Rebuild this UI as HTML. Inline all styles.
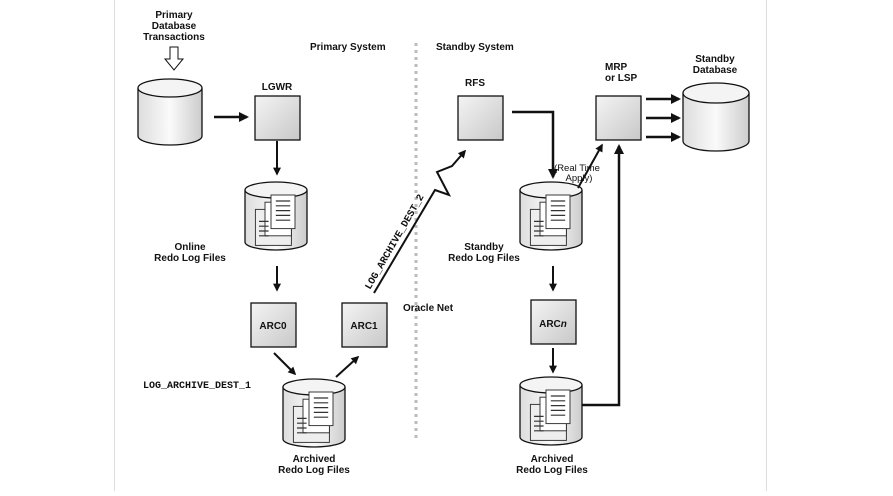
<!DOCTYPE html>
<html><head><meta charset="utf-8"><style>
body{margin:0;background:#fff}
text{font-family:"Liberation Sans",sans-serif;font-weight:bold;font-size:10px;fill:#111}
.m{font-family:"Liberation Mono",monospace;font-size:10px}
.n{font-weight:normal;font-size:9.5px}
</style></head><body>
<svg width="893" height="491" viewBox="0 0 893 491" xmlns="http://www.w3.org/2000/svg">
<defs>
<linearGradient id="g" x1="0" x2="1"><stop offset="0" stop-color="#ddd"/><stop offset="0.5" stop-color="#fafafa"/><stop offset="1" stop-color="#ccc"/></linearGradient>
<linearGradient id="b" x1="0" y1="0" x2="1" y2="1"><stop offset="0" stop-color="#f4f4f4"/><stop offset="1" stop-color="#c8c8c8"/></linearGradient>
<marker id="a" viewBox="0 0 10 10" refX="8" refY="5" markerWidth="4" markerHeight="4" orient="auto"><path d="M0,0L10,5L0,10z" fill="#111"/></marker>
<g id="doc" transform="scale(1.2)"><rect x="-18" y="-8" width="30" height="30" fill="#eee" stroke="#333" stroke-width="0.8"/><rect x="-10" y="-14" width="22" height="28" fill="#fff" stroke="#333" stroke-width="0.8"/><rect x="-5" y="-20" width="20" height="28" fill="#fff" stroke="#333" stroke-width="0.8"/><path d="M-1,-15h12M-1,-11h12M-1,-7h12M-1,-3h12M-1,1h12M-15,2h8M-15,6h8M-15,10h8M-15,14h8" stroke="#333"/></g>
</defs>
<line x1="114.5" y1="0" x2="114.5" y2="491" stroke="#ddd"/>
<line x1="766.5" y1="0" x2="766.5" y2="491" stroke="#ddd"/>
<line x1="416" y1="43" x2="416" y2="442" stroke="#bbb" stroke-width="3" stroke-dasharray="3,4"/>
<text x="174" y="18" text-anchor="middle">Primary</text><text x="174" y="29" text-anchor="middle">Database</text><text x="174" y="40" text-anchor="middle">Transactions</text>
<path d="M170,47h8v12h5l-9,11l-9,-11h5z" fill="#fff" stroke="#111"/>
<text x="310" y="50">Primary System</text><text x="436" y="50">Standby System</text>
<path d="M138,88v48a32,9 0 0 0 64,0v-48" fill="url(#g)" stroke="#111" stroke-width="1.3"/><ellipse cx="170" cy="88" rx="32" ry="9" fill="#f4f4f4" stroke="#111" stroke-width="1.3"/>
<line x1="214" y1="117" x2="247" y2="117" stroke="#111" stroke-width="2.5" marker-end="url(#a)"/>
<text x="277" y="90" text-anchor="middle">LGWR</text>
<rect x="255" y="96" width="45" height="44" fill="url(#b)" stroke="#111" stroke-width="1.3"/>
<line x1="277" y1="141" x2="277" y2="174" stroke="#111" stroke-width="2" marker-end="url(#a)"/>
<g id="cy"><path d="M245,190v52a31,8 0 0 0 62,0v-52" fill="url(#g)" stroke="#111" stroke-width="1.3"/><ellipse cx="276" cy="190" rx="31" ry="8" fill="#f4f4f4" stroke="#111" stroke-width="1.3"/><use href="#doc" x="277" y="219"/></g>
<text x="190" y="250" text-anchor="middle">Online</text><text x="190" y="261" text-anchor="middle">Redo Log Files</text>
<line x1="277" y1="266" x2="277" y2="290" stroke="#111" stroke-width="2" marker-end="url(#a)"/>
<rect x="251" y="303" width="45" height="44" fill="url(#b)" stroke="#111" stroke-width="1.3"/><text x="273" y="329" text-anchor="middle">ARC0</text>
<rect x="342" y="303" width="45" height="44" fill="url(#b)" stroke="#111" stroke-width="1.3"/><text x="364" y="329" text-anchor="middle">ARC1</text>
<line x1="274" y1="353" x2="295" y2="374" stroke="#111" stroke-width="2" marker-end="url(#a)"/>
<line x1="336" y1="377" x2="358" y2="357" stroke="#111" stroke-width="2" marker-end="url(#a)"/>
<text class="m" x="143" y="388">LOG_ARCHIVE_DEST_1</text>
<use href="#cy" x="38" y="197"/>
<text x="314" y="462" text-anchor="middle">Archived</text><text x="314" y="473" text-anchor="middle">Redo Log Files</text>
<path d="M374,293L435,190L449,195L437,172L452,166L465,151" fill="none" stroke="#111" stroke-width="2" marker-end="url(#a)"/>
<text class="m" transform="translate(370,290) rotate(-60)" font-size="9">LOG_ARCHIVE_DEST_2</text>
<text x="403" y="311">Oracle Net</text>
<text x="475" y="86" text-anchor="middle">RFS</text>
<rect x="458" y="96" width="45" height="44" fill="url(#b)" stroke="#111" stroke-width="1.3"/>
<path d="M512,112H553V177" fill="none" stroke="#111" stroke-width="2.5" marker-end="url(#a)"/>
<use href="#cy" x="275" y="0"/>
<text x="484" y="250" text-anchor="middle">Standby</text><text x="484" y="261" text-anchor="middle">Redo Log Files</text>
<text class="n" x="577" y="171" text-anchor="middle">(Real Time</text><text class="n" x="579" y="181" text-anchor="middle">Apply)</text>
<line x1="578" y1="188" x2="602" y2="145" stroke="#111" stroke-width="2" marker-end="url(#a)"/>
<text x="605" y="70">MRP</text><text x="605" y="81">or LSP</text>
<rect x="596" y="96" width="45" height="44" fill="url(#b)" stroke="#111" stroke-width="1.3"/>
<line x1="646" y1="99" x2="679" y2="99" stroke="#111" stroke-width="2.5" marker-end="url(#a)"/>
<line x1="646" y1="118" x2="679" y2="118" stroke="#111" stroke-width="2.5" marker-end="url(#a)"/>
<line x1="646" y1="137" x2="679" y2="137" stroke="#111" stroke-width="2.5" marker-end="url(#a)"/>
<text x="715" y="62" text-anchor="middle">Standby</text><text x="715" y="73" text-anchor="middle">Database</text>
<path d="M683,93v48a33,10 0 0 0 66,0v-48" fill="url(#g)" stroke="#111" stroke-width="1.3"/><ellipse cx="716" cy="93" rx="33" ry="10" fill="#f4f4f4" stroke="#111" stroke-width="1.3"/>
<line x1="553" y1="266" x2="553" y2="290" stroke="#111" stroke-width="2" marker-end="url(#a)"/>
<rect x="531" y="300" width="45" height="44" fill="url(#b)" stroke="#111" stroke-width="1.3"/><text x="553" y="327" text-anchor="middle">ARC<tspan font-style="italic">n</tspan></text>
<line x1="553" y1="348" x2="553" y2="372" stroke="#111" stroke-width="2" marker-end="url(#a)"/>
<use href="#cy" x="275" y="195"/>
<text x="552" y="462" text-anchor="middle">Archived</text><text x="552" y="473" text-anchor="middle">Redo Log Files</text>
<path d="M582,405H619V146" fill="none" stroke="#111" stroke-width="2.5" marker-end="url(#a)"/>
</svg>
</body></html>
